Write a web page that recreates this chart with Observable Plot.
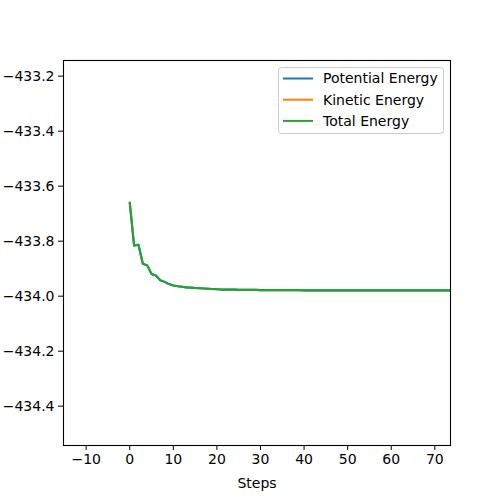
<!DOCTYPE html>
<html>
<head>
<meta charset="utf-8">
<script src="https://cdn.jsdelivr.net/npm/d3@7"></script>
<script src="https://cdn.jsdelivr.net/npm/@observablehq/plot@0.6"></script>
<style>
  html, body { margin: 0; padding: 0; background: #fff; }
  #chart { width: 500px; height: 500px; }
</style>
</head>
<body>
<div id="chart"></div>
<script>
// ---- data ----
const steps = [0,1,2,3,4,5,6,7,8,9,10,11,12,13,14,15,16,17,18,19,20,21,22,23,24,25,26,27,28,29,30,31,32,33,34,35,36,37,38,39,40,41,42,43,44,45,46,47,48,49,50,51,52,53,54,55,56,57,58,59,60,61,62,63,64,65,66,67,68,69,70,71,72,73,74];
const totalEnergy = [
  -433.660, -433.816, -433.813, -433.882, -433.888, -433.919, -433.925, -433.942, -433.948, -433.956,
  -433.961, -433.964, -433.966, -433.968, -433.969, -433.970, -433.971, -433.972, -433.973, -433.974,
  -433.975, -433.976, -433.976, -433.976, -433.976, -433.977, -433.977, -433.977, -433.977, -433.977,
  -433.978, -433.978, -433.978, -433.978, -433.978, -433.978, -433.978, -433.978, -433.978, -433.978,
  -433.979, -433.979, -433.979, -433.979, -433.979, -433.979, -433.979, -433.979, -433.979, -433.979,
  -433.979, -433.979, -433.979, -433.979, -433.979, -433.979, -433.979, -433.979, -433.979, -433.979,
  -433.979, -433.979, -433.979, -433.979, -433.979, -433.979, -433.979, -433.979, -433.979, -433.979,
  -433.979, -433.979, -433.979, -433.979, -433.979
];
const potentialEnergy = [
  -433.660, -433.816, -433.813, -433.882, -433.888, -433.919, -433.925, -433.942, -433.948, -433.956,
  -433.961, -433.964, -433.966, -433.968, -433.969, -433.970, -433.971, -433.972, -433.973, -433.974,
  -433.975, -433.976, -433.976, -433.976, -433.976, -433.977, -433.977, -433.977, -433.977, -433.977,
  -433.978, -433.978, -433.978, -433.978, -433.978, -433.978, -433.978, -433.978, -433.978, -433.978,
  -433.979, -433.979, -433.979, -433.979, -433.979, -433.979, -433.979, -433.979, -433.979, -433.979,
  -433.979, -433.979, -433.979, -433.979, -433.979, -433.979, -433.979, -433.979, -433.979, -433.979,
  -433.979, -433.979, -433.979, -433.979, -433.979, -433.979, -433.979, -433.979, -433.979, -433.979,
  -433.979, -433.979, -433.979, -433.979, -433.979
];
const seriesNames = ["Potential Energy", "Kinetic Energy", "Total Energy"];
const seriesColors = ["#1f77b4", "#ff7f0e", "#2ca02c"];
const xTicks = [-10, 0, 10, 20, 30, 40, 50, 60, 70];
const yTicks = [-434.4, -434.2, -434.0, -433.8, -433.6, -433.4, -433.2];
const xDomain = [-15.2, 73.6];
const yDomain = [-434.543, -433.143];
const xLabel = "Steps";

const potRows = steps.map((s, i) => ({step: s, value: potentialEnergy[i], series: seriesNames[0]}));
const totRows = steps.map((s, i) => ({step: s, value: totalEnergy[i], series: seriesNames[2]}));

const font = "'DejaVu Sans', sans-serif";

const plot = Plot.plot({
  width: 500,
  height: 500,
  marginLeft: 63,
  marginRight: 50,
  marginTop: 60,
  marginBottom: 55,
  style: {fontFamily: font, fontSize: "14px", color: "#000", background: "#fff"},
  x: {domain: xDomain},
  y: {domain: yDomain},
  marks: [
    Plot.line(potRows, {x: "step", y: "value", stroke: seriesColors[0], strokeWidth: 2.1, clip: true}),
    Plot.line(totRows, {x: "step", y: "value", stroke: seriesColors[2], strokeWidth: 2.1, clip: true}),
    Plot.frame({stroke: "#000", strokeWidth: 1.1}),
    Plot.axisX({ticks: xTicks, tickSize: 5, tickPadding: 4, tickFormat: d3.format("d"),
      label: xLabel, labelAnchor: "center", labelArrow: "none", labelOffset: 42, fontSize: 14}),
    Plot.axisY({ticks: yTicks, tickSize: 5, tickPadding: 4, tickFormat: d3.format(".1f"),
      label: null, fontSize: 14})
  ]
});

document.getElementById("chart").appendChild(plot);

// legend (matplotlib-style, upper right)
const svg = d3.select(plot);
const lg = svg.append("g").attr("font-family", font).attr("font-size", 14).attr("text-anchor", "start");
lg.append("rect")
  .attr("x", 278.5).attr("y", 67.5).attr("width", 165).attr("height", 66)
  .attr("rx", 3).attr("fill", "#fff").attr("fill-opacity", 0.8)
  .attr("stroke", "#ccc").attr("stroke-width", 1);
seriesNames.forEach((name, i) => {
  const yy = 78.5 + i * 21.2;
  lg.append("line").attr("x1", 283).attr("x2", 313).attr("y1", yy).attr("y2", yy)
    .attr("stroke", seriesColors[i]).attr("stroke-width", 2);
  lg.append("text").attr("x", 323).attr("y", yy).attr("dy", "0.35em")
    .attr("text-anchor", "start").attr("fill", "#000").text(name);
});
</script>
</body>
</html>
